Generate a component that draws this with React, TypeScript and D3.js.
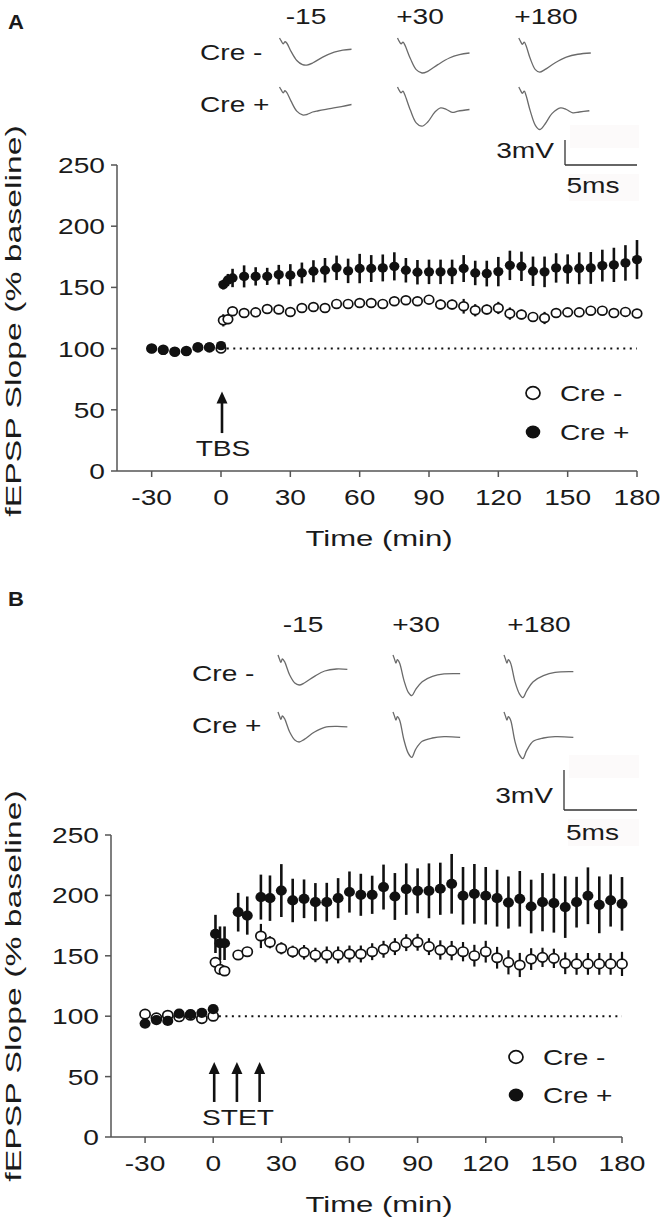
import React from 'react';
import * as d3 from 'd3';

// ---------- shared axes ----------
const xTicks = [-30, 0, 30, 60, 90, 120, 150, 180];
const yTicks = [0, 50, 100, 150, 200, 250];
const baselineTimes = [-30, -25, -20, -15, -10, -5, 0];
const traceLabels = ['-15', '+30', '+180'];

// ---------- Panel A (TBS) ----------
const aPostTimes = [1, 3, 5, 10, 15, 20, 25, 30, 35, 40, 45, 50, 55, 60, 65, 70, 75, 80, 85, 90, 95, 100, 105, 110, 115, 120, 125, 130, 135, 140, 145, 150, 155, 160, 165, 170, 175, 180];
const aCreMinusBase = [100, 99, 97.5, 98, 101, 101, 100];
const aCrePlusBase = [100, 98.6, 97.5, 97.7, 101.4, 101.4, 102.4];
const aCreMinusPost = [123.1, 124, 130.5, 129.1, 129.6, 132.4, 131.9, 129.9, 133.2, 134, 133.2, 136.5, 136.5, 137.3, 137.3, 136.5, 138.7, 139.5, 138.7, 140, 136, 136, 134.6, 131.3, 131.9, 133.2, 128.6, 127.8, 125.9, 125, 129.1, 129.6, 129.6, 131, 131, 129, 130, 128.6];
const aCreMinusErr = [5, 4, 3, 3, 3, 3, 3, 3, 3, 3, 3, 3, 3, 3, 3, 3, 3, 3, 3, 3, 4, 4, 6, 5, 4, 5, 5, 4, 4, 5, 3, 3, 3, 3, 3, 3, 3, 3];
const aCrePlusPost = [152.3, 156, 157.7, 159, 159, 159, 160.4, 160, 161.8, 163.2, 164, 166, 163.5, 165.4, 165.4, 165.9, 167.2, 164, 162.4, 162.7, 162.7, 162.7, 165.4, 161.8, 161.3, 162.9, 168, 167.2, 163.2, 162.7, 165.9, 165, 165.6, 165.9, 167.8, 168.4, 170, 172.7];
const aCrePlusErr = [4, 5, 7.5, 9, 7.5, 7, 8, 9, 8.5, 9, 10, 10, 10, 12, 11, 11, 11.5, 10, 10, 10, 10, 10, 11, 10, 10.5, 12, 12, 12, 12, 12.5, 12, 12, 13, 13, 13, 14, 14.5, 16];

// ---------- Panel B (STET) ----------
const bPostTimes = [1, 3, 5, 11, 15, 21, 25, 30, 35, 40, 45, 50, 55, 60, 65, 70, 75, 80, 85, 90, 95, 100, 105, 110, 115, 120, 125, 130, 135, 140, 145, 150, 155, 160, 165, 170, 175, 180];
const bCreMinusBase = [101.7, 98.6, 100.8, 99.5, 100.8, 98, 100];
const bCrePlusBase = [93.9, 96.7, 96.1, 102.2, 101.7, 102.8, 105.8];
const bCreMinusPost = [144.6, 138.8, 137.4, 150.7, 153.4, 166.4, 161.2, 156.2, 153.4, 152.9, 150.7, 150.7, 150.7, 151.5, 151.5, 153.4, 155.4, 157.6, 160.9, 161.2, 157.6, 154.8, 154.3, 153.4, 150.1, 153.4, 148.4, 144.6, 142.4, 147.3, 148.7, 147.9, 143.8, 143.3, 143.3, 143.3, 143.3, 143.3];
const bCreMinusErr = [3, 3, 3, 3, 3, 10, 5, 5, 5, 6, 6, 7, 7, 7, 7, 7, 7, 7, 7, 7, 7, 8, 8, 8, 9, 9, 9, 10, 10, 9, 8, 8, 9, 9, 9, 9, 9, 10];
const bCrePlusPost = [168.1, 160.4, 160.4, 186.1, 183.3, 198.6, 197.7, 204, 195.8, 197.2, 194.4, 194.4, 197.7, 202.8, 200.5, 200.5, 206.9, 199.1, 205.2, 203.8, 203.8, 205.5, 209.6, 199.7, 201.3, 199.7, 197.7, 194.1, 197.2, 190.8, 194.4, 193.6, 190.3, 194.4, 199.7, 192.2, 195.8, 193];
const bCrePlusErr = [15.8, 13.9, 13.9, 16, 15.8, 18.6, 18.8, 21.9, 18, 16, 15.8, 16, 16.6, 17, 17.4, 15.8, 18.6, 19.4, 21.3, 18.6, 22.7, 21.6, 24.7, 23.8, 24.7, 23.8, 23.5, 21.6, 23, 22.2, 24.1, 24.4, 25.5, 21, 23.5, 23.5, 21.6, 22.2];

// ---------- example fEPSP traces: [ms, mV] ----------
const aTraceCreMinus = [
  [[0, 0], [0.12, -0.35], [0.25, -0.7], [0.38, -0.45], [0.5, -0.6], [0.8, -1.6], [1.2, -2.7], [1.6, -3.2], [1.9, -3.25], [2.3, -3.0], [3.0, -2.3], [3.8, -1.7], [4.4, -1.45], [5, -1.35]],
  [[0, 0], [0.12, -0.4], [0.25, -0.7], [0.38, -0.5], [0.5, -0.8], [0.9, -2.5], [1.3, -3.8], [1.7, -4.2], [2.1, -4.0], [2.8, -3.2], [3.6, -2.4], [4.3, -2.0], [5, -1.8]],
  [[0, 0], [0.12, -0.4], [0.25, -0.75], [0.38, -0.5], [0.5, -0.9], [0.8, -2.5], [1.15, -3.8], [1.45, -4.1], [1.8, -3.8], [2.5, -3.0], [3.3, -2.3], [4.1, -1.95], [5, -1.8]],
];
const aTraceCrePlus = [
  [[0, 0], [0.12, -0.35], [0.25, -0.7], [0.38, -0.45], [0.5, -0.65], [0.8, -1.7], [1.2, -2.9], [1.6, -3.35], [1.9, -3.3], [2.3, -3.0], [2.7, -2.85], [3.5, -2.6], [4.3, -2.35], [5, -2.1]],
  [[0, 0], [0.12, -0.4], [0.25, -0.7], [0.38, -0.5], [0.5, -0.9], [0.9, -2.8], [1.3, -4.3], [1.7, -4.7], [2.1, -4.2], [2.6, -3.0], [3.0, -2.5], [3.4, -2.7], [3.8, -3.05], [4.2, -2.9], [5, -2.7]],
  [[0, 0], [0.12, -0.4], [0.25, -0.75], [0.38, -0.5], [0.5, -1.0], [0.8, -2.9], [1.15, -4.6], [1.45, -5.1], [1.8, -4.5], [2.3, -3.2], [2.9, -2.5], [3.3, -2.7], [3.75, -3.1], [4.2, -3.0], [4.9, -2.85]],
];
const bTraceCreMinus = [
  [[0, 0], [0.1, -0.3], [0.2, -0.55], [0.3, -0.3], [0.45, -0.5], [0.8, -1.5], [1.15, -2.1], [1.45, -2.25], [1.8, -2.1], [2.5, -1.6], [3.2, -1.2], [4.0, -1.05], [4.75, -1.08]],
  [[0, 0], [0.1, -0.3], [0.2, -0.6], [0.3, -0.35], [0.45, -0.6], [0.75, -1.9], [1.05, -2.8], [1.29, -3.05], [1.55, -2.6], [2.0, -2.0], [2.7, -1.6], [3.5, -1.42], [4.6, -1.4]],
  [[0, 0], [0.1, -0.3], [0.2, -0.6], [0.3, -0.35], [0.45, -0.6], [0.75, -2.0], [1.05, -2.9], [1.29, -3.2], [1.55, -2.7], [2.0, -2.0], [2.7, -1.55], [3.5, -1.3], [4.75, -1.25]],
];
const bTraceCrePlus = [
  [[0, 0], [0.1, -0.3], [0.2, -0.55], [0.3, -0.3], [0.45, -0.5], [0.8, -1.5], [1.15, -2.1], [1.45, -2.25], [1.8, -2.05], [2.5, -1.5], [3.2, -1.15], [4.0, -1.08], [4.75, -1.12]],
  [[0, 0], [0.1, -0.3], [0.2, -0.6], [0.3, -0.35], [0.45, -0.6], [0.75, -2.1], [1.05, -3.1], [1.29, -3.4], [1.55, -2.8], [2.0, -2.2], [2.7, -1.95], [3.5, -1.85], [4.6, -1.9]],
  [[0, 0], [0.1, -0.3], [0.2, -0.6], [0.3, -0.35], [0.45, -0.6], [0.75, -2.2], [1.05, -3.2], [1.29, -3.5], [1.55, -2.9], [2.0, -2.2], [2.7, -1.95], [3.5, -1.85], [4.75, -1.9]],
];

const FONT = "'Liberation Sans', Arial, Helvetica, sans-serif";
const INK = '#1a1a1a';
const AXIS = '#555555';
const TRACE = '#6a6a6a';

type TxtProps = { x: number; y: number; text: string; anchor?: string; size?: number; sx?: number; weight?: string; rotate?: number };
function Txt({ x, y, text, anchor = 'start', size = 22.5, sx = 1.25, weight = 'normal', rotate = 0 }: TxtProps) {
  return (
    <text transform={`translate(${x},${y}) rotate(${rotate}) scale(${sx},1)`} textAnchor={anchor as any}
      fontSize={size} fontFamily={FONT} fill={INK} fontWeight={weight}>{text}</text>
  );
}

const panels = [
  {
    letter: 'A', letterY: 29,
    xRange: [117, 637], yRange: [471, 165],
    post: aPostTimes,
    minusBase: aCreMinusBase, plusBase: aCrePlusBase,
    minusPost: aCreMinusPost, minusErr: aCreMinusErr,
    plusPost: aCrePlusPost, plusErr: aCrePlusErr,
    rMinus: 4.4, rPlus: 4.7,
    stim: [0], stimLabel: 'TBS', arrowVals: [31, 65], stimLabelY: 456,
    legend: { x: 533, yMinus: 393, yPlus: 432, tx: 560 },
    traceX: [279.5, 397.5, 518.8], traceRowY: [38, 87], traceMs: 14.4, traceMvPx: 25,
    tracesMinus: aTraceCreMinus, tracesPlus: aTraceCrePlus,
    traceLabelX: [306, 420, 546], traceLabelY: 24,
    rowLabelX: 200, rowLabelY: [60, 112],
    bar: { x: 565, y: 165 }, mvLabelY: 158, msLabelY: 193,
    yLabelY: 321,
  },
  {
    letter: 'B', letterY: 606,
    xRange: [111, 622], yRange: [1137, 835],
    post: bPostTimes,
    minusBase: bCreMinusBase, plusBase: bCrePlusBase,
    minusPost: bCreMinusPost, minusErr: bCreMinusErr,
    plusPost: bCrePlusPost, plusErr: bCrePlusErr,
    rMinus: 4.7, rPlus: 5.1,
    stim: [0, 10, 20], stimLabel: 'STET', arrowVals: [29, 62], stimLabelY: 1125,
    legend: { x: 516, yMinus: 1057, yPlus: 1095, tx: 543 },
    traceX: [278, 393, 504], traceRowY: [655, 712], traceMs: 14.6, traceMvPx: 40,
    tracesMinus: bTraceCreMinus, tracesPlus: bTraceCrePlus,
    traceLabelX: [303, 416, 539], traceLabelY: 632,
    rowLabelX: 192, rowLabelY: [681, 733],
    bar: { x: 564, y: 810 }, mvLabelY: 803, msLabelY: 840,
    yLabelY: 986,
  },
];

function Panel({ p }: { p: any }) {
  const x = d3.scaleLinear().domain([-45, 180]).range(p.xRange);
  const y = d3.scaleLinear().domain([0, 250]).range(p.yRange);
  const [x0, x1] = p.xRange;
  const [yb, yt] = p.yRange;
  const times = [...baselineTimes, ...p.post];
  const minus = [...p.minusBase, ...p.minusPost].map((v: number, i: number) => ({ t: times[i], v, e: i < 7 ? 0 : p.minusErr[i - 7] }));
  const plus = [...p.plusBase, ...p.plusPost].map((v: number, i: number) => ({ t: times[i], v, e: i < 7 ? 0 : p.plusErr[i - 7] }));

  const ms = d3.scaleLinear().domain([0, 5]).range([0, p.traceMs * 5]);
  const mv = d3.scaleLinear().domain([0, -3]).range([0, p.traceMvPx]);
  const line = d3.line<number[]>().x((d) => ms(d[0])).y((d) => mv(d[1])).curve(d3.curveCatmullRom.alpha(0.5));

  return (
    <g>
      <Txt x={8} y={p.letterY} text={p.letter} size={21} weight="bold" sx={1.05} />

      {/* example traces */}
      {traceLabels.map((t, i) => (
        <Txt key={t} x={p.traceLabelX[i]} y={p.traceLabelY} text={t} anchor="middle" />
      ))}
      <Txt x={p.rowLabelX} y={p.rowLabelY[0]} text="Cre -" />
      <Txt x={p.rowLabelX} y={p.rowLabelY[1]} text="Cre +" />
      {[p.tracesMinus, p.tracesPlus].map((row: any[], r: number) =>
        row.map((tr: any, i: number) => (
          <path key={`${r}-${i}`} d={line(tr) || ''} transform={`translate(${p.traceX[i]},${p.traceRowY[r]})`}
            fill="none" stroke={TRACE} strokeWidth={1.3} />
        ))
      )}
      {/* scale bar */}
      <rect x={p.bar.x + 5} y={p.bar.y - mv(-3) - 15} width={ms(5) - 3} height={23} fill="#fcfafa" />
      <rect x={p.bar.x + 4} y={p.bar.y + 9} width={ms(5) - 2} height={27} fill="#fcfafa" />
      <line x1={p.bar.x} x2={p.bar.x} y1={p.bar.y} y2={p.bar.y - mv(-3)} stroke="#333" strokeWidth={1.3} />
      <line x1={p.bar.x} x2={p.bar.x + ms(5)} y1={p.bar.y} y2={p.bar.y} stroke="#333" strokeWidth={1.3} />
      <Txt x={p.bar.x - 11} y={p.mvLabelY} text="3mV" anchor="end" />
      <Txt x={p.bar.x + ms(5) / 2 - 8} y={p.msLabelY} text="5ms" anchor="middle" />

      {/* axes */}
      <line x1={x0} x2={x0} y1={yb} y2={yt} stroke={AXIS} strokeWidth={1.5} />
      <line x1={x0} x2={x1} y1={yb} y2={yb} stroke={AXIS} strokeWidth={1.5} />
      {yTicks.map((t) => (
        <g key={`y${t}`}>
          <line x1={x0 - 6} x2={x0} y1={y(t)} y2={y(t)} stroke={AXIS} strokeWidth={1.5} />
          <Txt x={x0 - 12} y={y(t) + 8} text={String(t)} anchor="end" />
        </g>
      ))}
      {xTicks.map((t) => (
        <g key={`x${t}`}>
          <line x1={x(t)} x2={x(t)} y1={yb} y2={yb + 6} stroke={AXIS} strokeWidth={1.5} />
          <Txt x={x(t)} y={yb + 34} text={String(t)} anchor="middle" />
        </g>
      ))}
      <Txt x={379} y={yb + 75} text="Time (min)" anchor="middle" sx={1.38} />
      <Txt x={21} y={p.yLabelY} text="fEPSP Slope (% baseline)" anchor="middle" rotate={-90} sx={1.5} />

      {/* baseline reference */}
      <line x1={x(2.5)} x2={x(180)} y1={y(100)} y2={y(100)} stroke="#111" strokeWidth={2} strokeDasharray="2 4.5" />

      {/* stimulation arrows */}
      {p.stim.map((s: number) => (
        <g key={`s${s}`}>
          <line x1={x(s) + 1} x2={x(s) + 1} y1={y(p.arrowVals[0])} y2={y(p.arrowVals[1]) + 9} stroke="#111" strokeWidth={2.6} />
          <path d={`M${x(s) + 1},${y(p.arrowVals[1])} l-5.5,12 l11,0 z`} fill="#111" />
        </g>
      ))}
      <Txt x={x((p.stim[0] + p.stim[p.stim.length - 1]) / 2) + 2} y={p.stimLabelY} text={p.stimLabel} anchor="middle" />

      {/* Cre- (open) */}
      {minus.map((d: any) => d.e > 0 && (
        <line key={`me${d.t}`} x1={x(d.t)} x2={x(d.t)} y1={y(d.v - d.e)} y2={y(d.v + d.e)} stroke="#111" strokeWidth={2.2} />
      ))}
      {minus.map((d: any) => (
        <ellipse key={`m${d.t}`} cx={x(d.t)} cy={y(d.v)} rx={p.rMinus * 1.08} ry={p.rMinus} fill="#fff" stroke="#111" strokeWidth={1.7} />
      ))}
      {/* Cre+ (filled) */}
      {plus.map((d: any) => d.e > 0 && (
        <line key={`pe${d.t}`} x1={x(d.t)} x2={x(d.t)} y1={y(d.v - d.e)} y2={y(d.v + d.e)} stroke="#111" strokeWidth={2.6} />
      ))}
      {plus.map((d: any) => (
        <ellipse key={`p${d.t}`} cx={x(d.t)} cy={y(d.v)} rx={p.rPlus * 1.08} ry={p.rPlus} fill="#111" />
      ))}

      {/* legend */}
      <ellipse cx={p.legend.x} cy={p.legend.yMinus} rx={7} ry={6.3} fill="#fff" stroke="#111" strokeWidth={1.7} />
      <Txt x={p.legend.tx} y={p.legend.yMinus + 8} text="Cre -" />
      <ellipse cx={p.legend.x} cy={p.legend.yPlus} rx={7.3} ry={6.5} fill="#111" />
      <Txt x={p.legend.tx} y={p.legend.yPlus + 8} text="Cre +" />
    </g>
  );
}

export default function App() {
  return (
    <svg width={661} height={1225} viewBox="0 0 661 1225" style={{ position: 'absolute', left: 0, top: 0, background: '#fff' }}>
      <rect width={661} height={1225} fill="#fff" />
      {panels.map((p) => <Panel key={p.letter} p={p} />)}
    </svg>
  );
}
